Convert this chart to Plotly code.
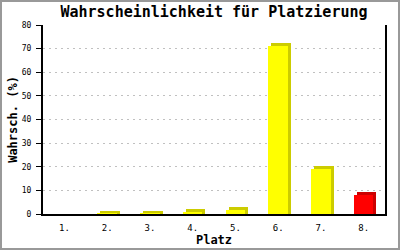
import plotly.graph_objects as go

# ---- data ----
places = [1, 2, 3, 4, 5, 6, 7, 8]
place_labels = ["1.", "2.", "3.", "4.", "5.", "6.", "7.", "8."]
probabilities = [0.0, 0.2, 0.2, 0.9, 1.8, 71.0, 19.1, 8.1]
front_colors = ["#ffff00"] * 7 + ["#ff0000"]
side_colors = ["#cccc00"] * 7 + ["#cc0000"]
y_ticks = [0, 10, 20, 30, 40, 50, 60, 70, 80]

# ---- layout geometry ----
W, H = 400, 250
ML, MR, MT, MB = 43, 15, 25, 36
PW, PH = W - ML - MR, H - MT - MB
YMAX = 80
px_per_unit_y = PH / YMAX
px_per_cat = PW / len(places)

bar_w = 19.5 / px_per_cat
depth_x = 3 / px_per_cat
depth_y = 3 / px_per_unit_y

back_vals = [v + depth_y if v > 0 else 0 for v in probabilities]

fig = go.Figure()
fig.add_trace(go.Bar(
    x=places, y=back_vals, width=bar_w, offset=-bar_w / 2 + depth_x,
    marker=dict(color=side_colors, line=dict(width=0)), hoverinfo="skip",
    showlegend=False,
))
fig.add_trace(go.Bar(
    x=places, y=probabilities, width=bar_w, offset=-bar_w / 2,
    marker=dict(color=front_colors, line=dict(width=0)),
    showlegend=False,
))

mono = "DejaVu Sans Mono"
fig.update_layout(
    width=W, height=H,
    margin=dict(l=ML, r=MR, t=MT, b=MB, pad=0, autoexpand=False),
    paper_bgcolor="white", plot_bgcolor="white",
    barmode="overlay", bargap=0,
    title=dict(text="<b>Wahrscheinlichkeit für Platzierung</b>",
               x=0.5, xanchor="center", xref="paper",
               y=1 - 12 / H, yanchor="middle", yref="container",
               font=dict(family=mono, size=15, color="black"), automargin=False),
    font=dict(family=mono, size=8, color="black"),
    xaxis=dict(
        range=[0.5, 8.5], tickmode="array", tickvals=places, ticktext=place_labels,
        showgrid=False, zeroline=False, showline=True, linecolor="black", linewidth=2,
        ticks="", ticklabelstandoff=4, tickfont=dict(family=mono, size=9),
        title=dict(text="<b>Platz</b>", font=dict(family=mono, size=12), standoff=3),
        automargin=False, fixedrange=True,
    ),
    yaxis=dict(
        range=[0, YMAX], tickmode="array", tickvals=y_ticks,
        showgrid=True, gridcolor="#c0c0c0", griddash="2px,4px", gridwidth=1,
        zeroline=False, showline=True, linecolor="black", linewidth=2, mirror=True,
        ticks="outside", ticklen=5, tickcolor="black", tickwidth=1,
        ticklabelstandoff=3, tickfont=dict(family=mono, size=8),
        title=dict(text="<b>Wahrsch. (%)</b>", font=dict(family=mono, size=12), standoff=2),
        automargin=False, fixedrange=True,
    ),
    shapes=[dict(
        type="rect", xref="paper", yref="paper",
        x0=(-ML + 1) / PW, x1=1 + (MR - 1) / PW,
        y0=(-MB + 1) / PH, y1=1 + (MT - 1) / PH,
        line=dict(color="#999999", width=2), fillcolor="rgba(0,0,0,0)", layer="below",
    )],
)

fig.write_html("out.html")
